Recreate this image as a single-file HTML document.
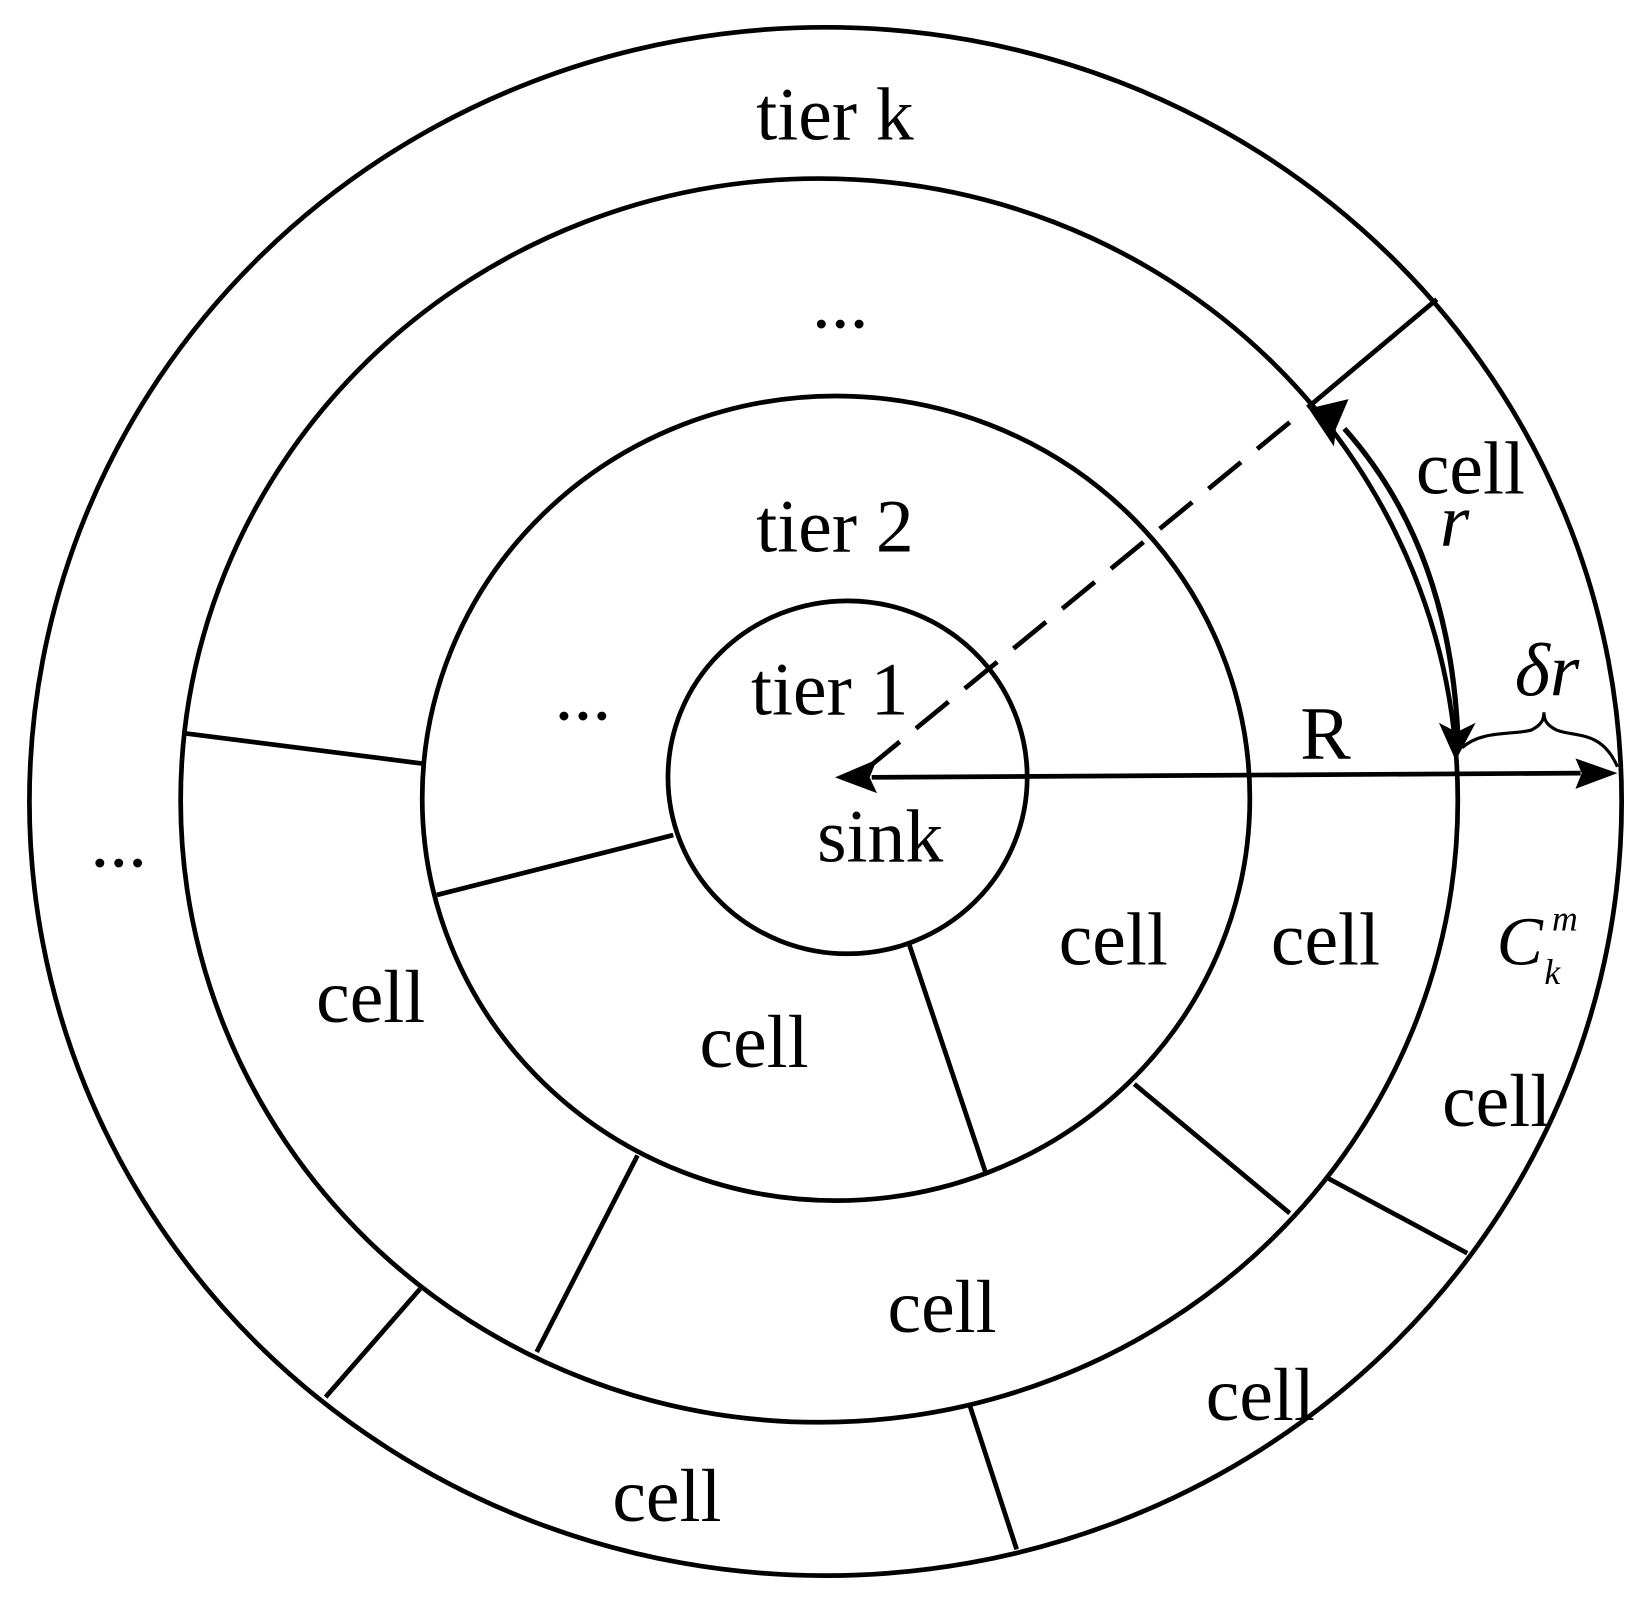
<!DOCTYPE html>
<html><head><style>html,body{margin:0;padding:0;background:#fff}svg{display:block}</style></head>
<body>
<svg width="1650" height="1604" viewBox="0 0 1571 1527" preserveAspectRatio="none" xmlns="http://www.w3.org/2000/svg">
<g fill="none" stroke="#000" stroke-width="4.5">
<ellipse cx="786" cy="763" rx="758" ry="737"/>
<ellipse cx="780" cy="762" rx="608" ry="592"/>
<ellipse cx="796" cy="760" rx="394" ry="383"/>
<ellipse cx="807" cy="740" rx="171" ry="168"/>
<line x1="1368" y1="285" x2="1245" y2="388"/>
<line x1="175" y1="698" x2="403" y2="727"/>
<line x1="416" y1="852" x2="641" y2="795"/>
<line x1="865" y1="897" x2="938" y2="1115"/>
<line x1="1080" y1="1032" x2="1228" y2="1155"/>
<line x1="1265" y1="1122" x2="1397" y2="1193"/>
<line x1="607" y1="1100" x2="511" y2="1287"/>
<line x1="400" y1="1227" x2="310" y2="1330"/>
<line x1="923" y1="1337" x2="968" y2="1475"/>
<line x1="1228" y1="402" x2="830" y2="728" stroke-dasharray="40,20"/>
<line x1="830" y1="740" x2="1505" y2="736"/>
<path d="M1280,408 Q1380,520 1388,700" stroke-width="5"/>
<path d="M1392,712 C1410,695 1440,700 1458,695 C1468,690 1470,685 1470,678 C1470,685 1472,690 1482,695 C1500,702 1525,695 1540,730" stroke-width="3"/>
</g>
<g fill="#000">
<path d="M795,740 L835,723 L828,740 L835,755 Z"/>
<path d="M1540,736 L1500,722 L1506,736 L1500,751 Z"/>
<path d="M1386,724 L1370,688 L1387,697 L1405,688 Z"/>
<path d="M1246,389 L1284,380 L1272,408 L1270,425 Z"/>
</g>
<g font-family="Liberation Serif, serif" font-size="72" text-anchor="middle" fill="#000">
<text x="795" y="133">tier k</text>
<text x="800" y="312">...</text>
<text x="795" y="525">tier 2</text>
<text x="790" y="680">tier 1</text>
<text x="555" y="685">...</text>
<text x="113" y="825">...</text>
<text x="838" y="820">sink</text>
<text x="1262" y="722">R</text>
<text x="1400" y="470">cell</text>
<text x="1385" y="520" font-style="italic">r</text>
<text x="1473" y="662" font-style="italic">δr</text>
<text x="1060" y="918">cell</text>
<text x="1262" y="918">cell</text>
<text x="353" y="973">cell</text>
<text x="718" y="1016">cell</text>
<text x="1425" y="1072">cell</text>
<text x="897" y="1268">cell</text>
<text x="1200" y="1352">cell</text>
<text x="635" y="1448">cell</text>
<text x="1447" y="918" font-size="66" font-style="italic">C</text>
<text x="1490" y="886" font-size="34" font-style="italic">m</text>
<text x="1478" y="937" font-size="34" font-style="italic">k</text>
</g>
</svg>
</body></html>
